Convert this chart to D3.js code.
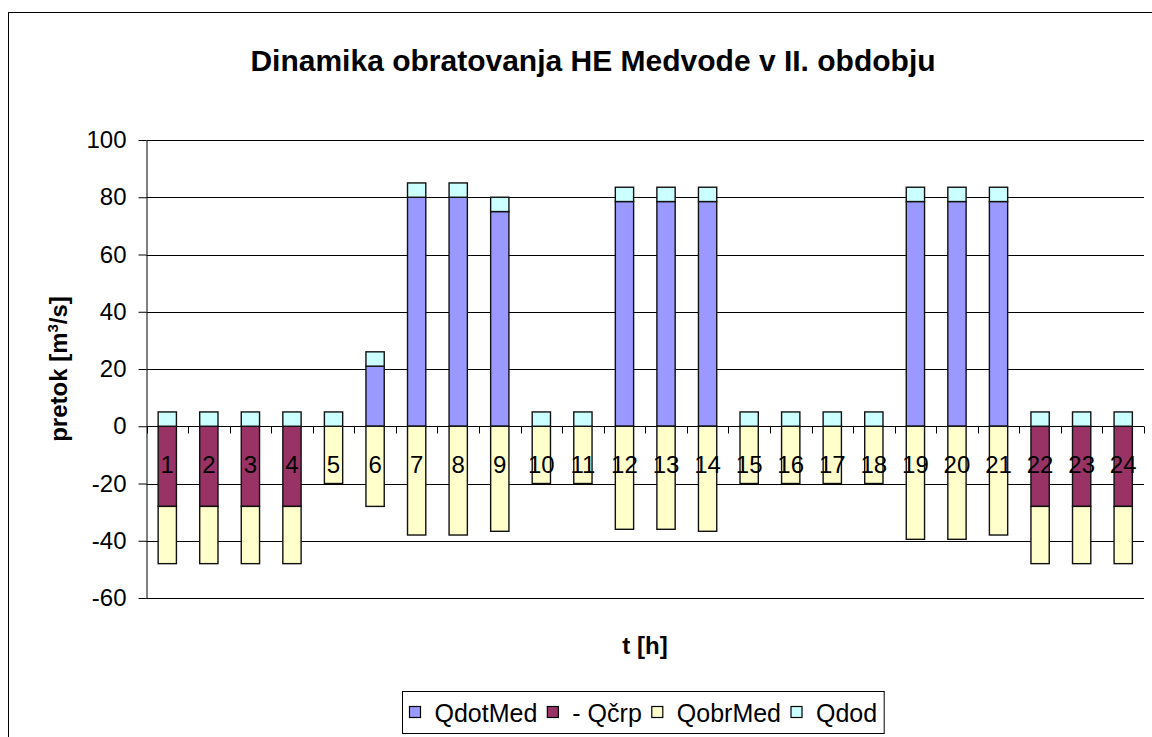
<!DOCTYPE html>
<html>
<head>
<meta charset="utf-8">
<script src="https://cdn.jsdelivr.net/npm/d3@7"></script>
<style>
  html, body { margin: 0; padding: 0; background: #fff; }
  svg { display: block; font-family: "Liberation Sans", Arial, sans-serif; }
</style>
</head>
<body>
<svg id="chart" width="1152" height="737"></svg>
<script>
// hours 1..24
const hours = d3.range(1, 25).map(String);

const qdotMed = [0, 0, 0, 0, 0, 21, 80, 80, 75, 0, 0, 78.5, 78.5, 78.5, 0, 0, 0, 0, 78.5, 78.5, 78.5, 0, 0, 0];
const qcrp = [-28, -28, -28, -28, 0, 0, 0, 0, 0, 0, 0, 0, 0, 0, 0, 0, 0, 0, 0, 0, 0, -28, -28, -28];
const qobrMed = [-20, -20, -20, -20, -20, -28, -38, -38, -36.7, -20, -20, -36, -36, -36.7, -20, -20, -20, -20, -39.5, -39.5, -38, -20, -20, -20];
const qdod = [5, 5, 5, 5, 5, 5, 5, 5, 5, 5, 5, 5, 5, 5, 5, 5, 5, 5, 5, 5, 5, 5, 5, 5];

const seriesKeys = ["QdotMed", "Qcrp", "QobrMed", "Qdod"];
const seriesNames = ["QdotMed", "- Qčrp", "QobrMed", "Qdod"];
const seriesColors = ["#9999ff", "#993366", "#ffffcc", "#ccffff"];
const yTicks = [-60, -40, -20, 0, 20, 40, 60, 80, 100];

const rows = hours.map((h, i) => ({
  hour: h, QdotMed: qdotMed[i], Qcrp: qcrp[i], QobrMed: qobrMed[i], Qdod: qdod[i]
}));

const svg = d3.select("#chart");
const plot = { left: 146.5, right: 1144, top: 140, bottom: 598 };

// outer chart border (runs off the right and bottom edge)
svg.append("rect")
  .attr("x", 8.5).attr("y", 12.5)
  .attr("width", 1300).attr("height", 900)
  .attr("fill", "#fff").attr("stroke", "#000").attr("stroke-width", 1);

const x = d3.scaleBand()
  .domain(hours)
  .range([plot.left, plot.right])
  .paddingInner(0.56)
  .paddingOuter(0.28);

const y = d3.scaleLinear().domain([-60, 100]).range([plot.bottom, plot.top]);

// gridlines
svg.append("g")
  .selectAll("line")
  .data(yTicks)
  .join("line")
  .attr("x1", plot.left).attr("x2", plot.right)
  .attr("y1", d => Math.round(y(d)) + 0.5).attr("y2", d => Math.round(y(d)) + 0.5)
  .attr("stroke", "#000").attr("stroke-width", 1);

// y axis (plain hyphen minus like the original)
const yAxis = svg.append("g")
  .attr("transform", `translate(${plot.left},0)`)
  .call(d3.axisLeft(y).tickValues(yTicks).tickFormat(d => String(d))
    .tickSize(8).tickSizeOuter(0).tickPadding(12));
yAxis.selectAll("line, path").attr("stroke", "#000");
yAxis.selectAll("text").attr("font-size", 24).attr("font-family", "Liberation Sans, Arial, sans-serif").attr("fill", "#000");

// category boundary ticks on the zero line
const step = x.step();
const y0 = Math.round(y(0)) + 0.5;
svg.append("g")
  .selectAll("line")
  .data(d3.range(0, hours.length + 1))
  .join("line")
  .attr("x1", i => Math.round(plot.left + i * step) + 0.5)
  .attr("x2", i => Math.round(plot.left + i * step) + 0.5)
  .attr("y1", y0).attr("y2", y0 + 7)
  .attr("stroke", "#000");

// stacked bars
const stacked = d3.stack().keys(seriesKeys).offset(d3.stackOffsetDiverging)(rows);

svg.append("g")
  .selectAll("g")
  .data(stacked)
  .join("g")
  .attr("fill", (d, i) => seriesColors[i])
  .selectAll("rect")
  .data(d => d.filter(v => v[1] !== v[0]))
  .join("rect")
  .attr("x", d => x(d.data.hour))
  .attr("width", x.bandwidth())
  .attr("y", d => y(Math.max(d[0], d[1])))
  .attr("height", d => Math.abs(y(d[0]) - y(d[1])))
  .attr("stroke", "#111")
  .attr("stroke-width", 1.4);

// hour labels
svg.append("g")
  .selectAll("text")
  .data(hours)
  .join("text")
  .attr("x", d => x(d) + x.bandwidth() / 2)
  .attr("y", 473)
  .attr("text-anchor", "middle")
  .attr("font-size", 24)
  .text(d => d);

// title
svg.append("text")
  .attr("x", 593).attr("y", 71)
  .attr("text-anchor", "middle")
  .attr("font-size", 30).attr("font-weight", "bold")
  .text("Dinamika obratovanja HE Medvode v II. obdobju");

// axis titles
const yt = svg.append("text")
  .attr("transform", "translate(67,369) rotate(-90)")
  .attr("text-anchor", "middle")
  .attr("font-size", 24).attr("font-weight", "bold");
yt.append("tspan").text("pretok [m");
yt.append("tspan").attr("font-size", 15).attr("dy", -9).text("3");
yt.append("tspan").attr("dy", 9).text("/s]");

svg.append("text")
  .attr("x", 645).attr("y", 654)
  .attr("text-anchor", "middle")
  .attr("font-size", 24).attr("font-weight", "bold")
  .text("t [h]");

// legend
const legend = svg.append("g");
const items = legend.selectAll("g")
  .data(seriesNames)
  .join("g");
items.append("rect")
  .attr("width", 11).attr("height", 11)
  .attr("y", -6)
  .attr("fill", (d, i) => seriesColors[i])
  .attr("stroke", "#000").attr("stroke-width", 1.2);
items.append("text")
  .attr("x", 25).attr("y", 9)
  .attr("font-size", 25)
  .text(d => d);

let lx = 0;
items.each(function () {
  const w = this.getBBox().width;
  d3.select(this).attr("transform", `translate(${lx},0)`);
  lx += w + 10;
});
const legendW = lx - 10 + 14;
const legendLeft = Math.round(643 - legendW / 2) + 0.5;
legend.insert("rect", ":first-child")
  .attr("x", -7).attr("y", -21)
  .attr("width", legendW).attr("height", 42)
  .attr("fill", "#fff").attr("stroke", "#000");
legend.attr("transform", `translate(${legendLeft + 7},712.5)`);
</script>
</body>
</html>
